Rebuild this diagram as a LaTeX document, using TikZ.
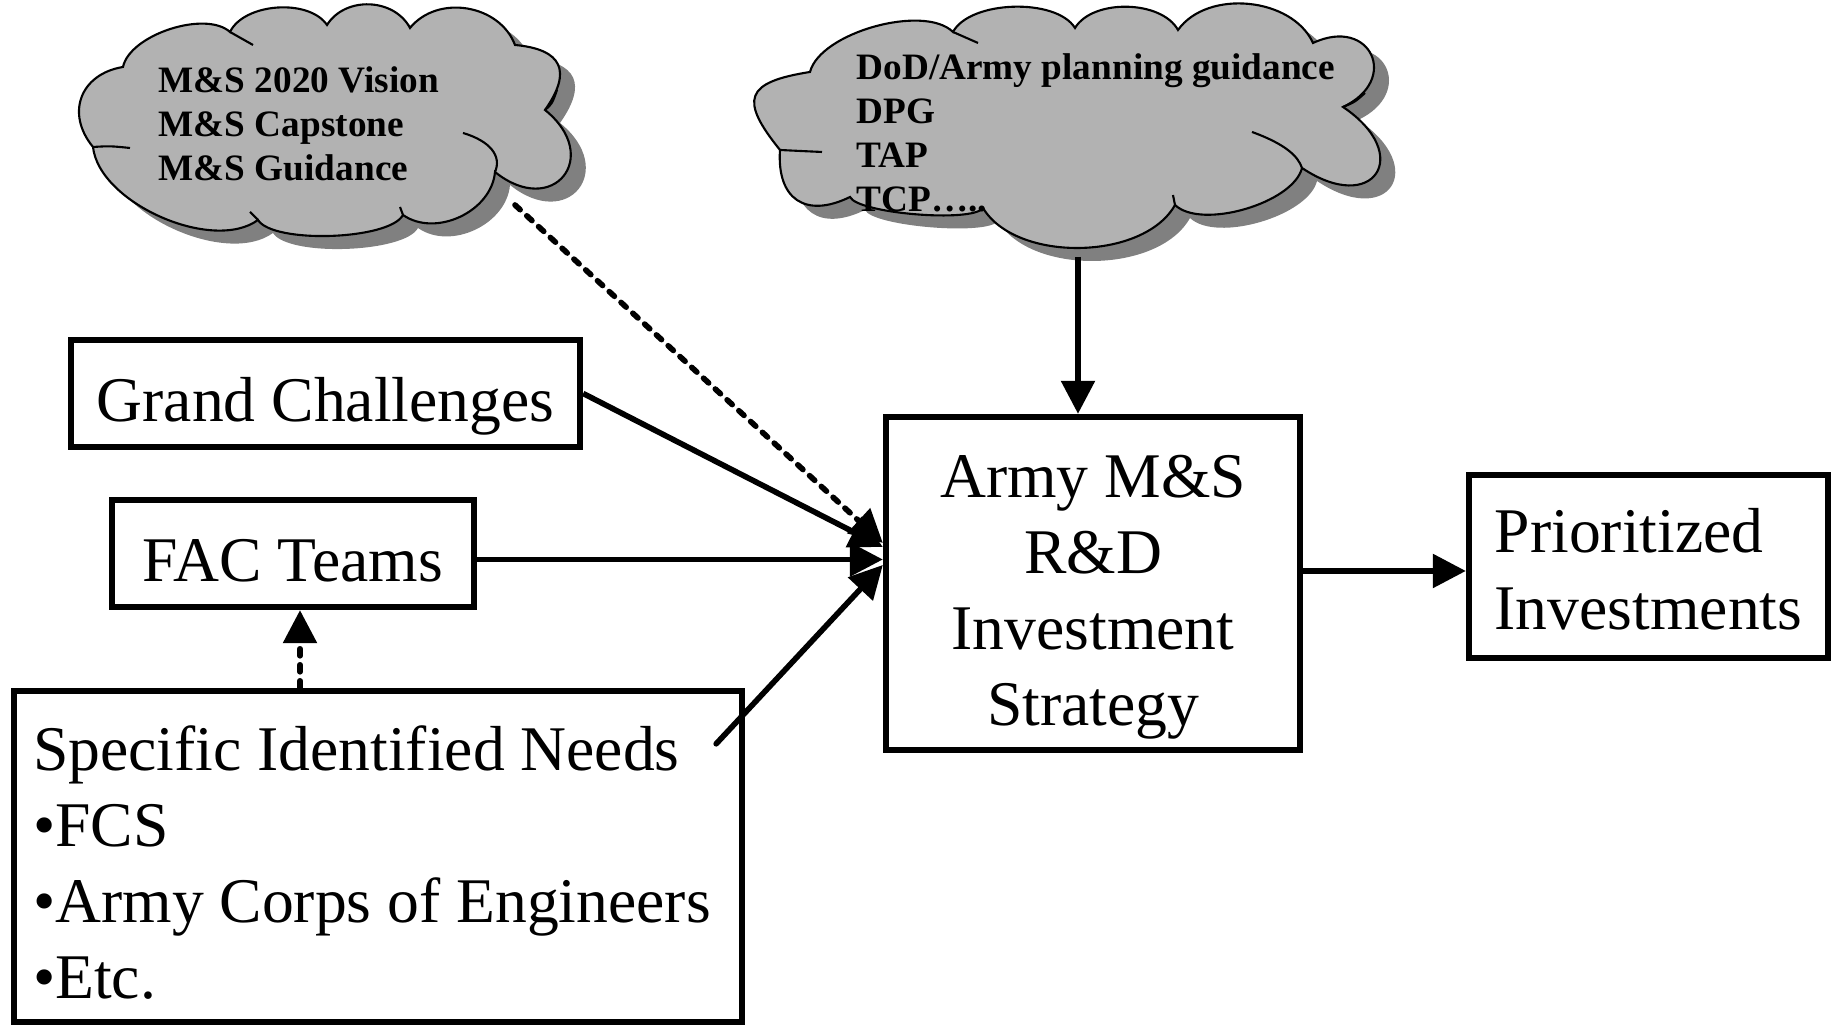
\documentclass[tikz,border=0pt]{standalone}
\usepackage{fontspec}
\setmainfont{Liberation Serif}
\usetikzlibrary{arrows.meta,positioning,calc}

\definecolor{cloudfill}{RGB}{178,178,178}
\definecolor{cloudshade}{RGB}{128,128,128}

\newcommand{\boxfont}{\fontsize{18.1pt}{21.7pt}\selectfont}
\newcommand{\cloudfont}{\fontsize{10.6pt}{12.5pt}\selectfont\bfseries}
\newcommand{\lift}[1][0.56cm]{\rule{0pt}{#1}}

% cloud outlines (puff by puff, clockwise)
\newcommand{\visionpath}{(0.93,8.79)
  to[bend left=60, looseness=1.3]  (1.23,9.59)
  to[bend left=60, looseness=0.75] (2.30,9.94)
  to[bend left=60, looseness=0.85] (3.27,10.01)
  to[bend left=60, looseness=1.05] (4.10,9.98)
  to[bend left=60, looseness=1.05] (5.15,9.81)
  to[bend left=60, looseness=1.7]  (5.45,9.16)
  to[bend left=90, looseness=2.4]  (4.95,8.54)
  to[bend left=60, looseness=1.0]  (4.03,8.11)
  to[bend left=60, looseness=0.5]  (2.58,8.06)
  to[bend left=60, looseness=0.8]  (0.93,8.79) -- cycle}
\newcommand{\planningpath}{(7.80,8.76)
  to[bend left=60, looseness=2.0]  (8.10,9.54)
  to[bend left=60, looseness=0.7]  (9.53,9.94)
  to[bend left=60, looseness=0.75] (10.75,9.98)
  to[bend left=60, looseness=0.85] (11.78,9.96)
  to[bend left=60, looseness=0.95] (13.13,9.83)
  to[bend left=90, looseness=2.3]  (13.43,9.19)
  to[bend left=90, looseness=3.0]  (13.02,8.58)
  to[bend left=60, looseness=0.7]  (11.75,8.21)
  to[bend left=60, looseness=0.85] (9.83,8.18)
  to[bend left=60, looseness=0.35] (8.50,8.29)
  to[bend left=60, looseness=1.5]  (7.80,8.76) -- cycle}

\begin{document}
\begin{tikzpicture}[
    box/.style={draw, line width=1.8pt, rectangle, inner sep=0pt, text depth=0pt, font=\boxfont},
    arr/.style={line width=1.6pt, -{Triangle[length=0.33cm, width=0.33cm]}},
    dasharr/.style={arr, line cap=round, dash pattern=on 0.07cm off 0.09cm},
    puffshade/.style={fill=cloudshade, shift={(0.15,-0.13)}},
    puffbody/.style={draw, fill=cloudfill, line width=0.6pt},
    puffnote/.style={anchor=west, align=left, inner sep=0pt, font=\cloudfont},
    crease/.style={line width=0.6pt}
  ]
  \useasboundingbox (0,0) rectangle (18.33,10.26);

  % Guidance clouds
  \fill[puffshade] \visionpath;
  \filldraw[puffbody] \visionpath;
  \draw[crease] (4.63,8.93) .. controls (4.90,8.85) and (5.02,8.70) .. (4.95,8.54);
  \draw[crease] (0.93,8.79) .. controls (1.10,8.80) .. (1.30,8.78);
  \draw[crease] (5.45,9.16) .. controls (5.52,9.22) .. (5.57,9.36);
  \draw[crease] (2.30,9.94) .. controls (2.42,9.88) .. (2.53,9.81);
  \draw[crease] (4.03,8.11) -- (4.00,8.19);
  \draw[crease] (2.58,8.06) -- (2.50,8.14);
  \node[puffnote] (visionText) at (1.58,9.02) {M\&S 2020 Vision\\M\&S Capstone\\M\&S Guidance};

  \fill[puffshade] \planningpath;
  \filldraw[puffbody] \planningpath;
  \draw[crease] (12.52,8.94) .. controls (12.85,8.82) and (12.98,8.70) .. (13.02,8.58);
  \draw[crease] (7.80,8.76) .. controls (8.00,8.75) .. (8.22,8.74);
  \draw[crease] (13.43,9.19) .. controls (13.55,9.24) .. (13.65,9.33);
  \draw[crease] (9.53,9.94) .. controls (9.65,9.88) .. (9.78,9.83);
  \draw[crease] (11.75,8.21) -- (11.73,8.31);
  \node[puffnote] (planningText) at (8.56,8.93) {DoD/Army planning guidance\\DPG\\TAP\\TCP…..};

  % Inputs
  \node[box, minimum width=5.09cm, minimum height=1.07cm] (grand) at (3.255,6.325) {\lift Grand Challenges};
  \node[box, minimum width=3.62cm, minimum height=1.07cm] (fac) at (2.93,4.725) {\lift FAC Teams};
  \node[box, minimum width=7.28cm, minimum height=3.31cm, align=left] (needs) at (3.78,1.695)
    {\lift Specific Identified Needs\\•FCS\\•Army Corps of Engineers\kern0.12cm\\•Etc.};

  % Strategy and result
  \node[box, minimum width=4.14cm, minimum height=3.33cm, align=center] (army) at (10.93,4.425)
    {\lift Army M\&S\\R\&D\\Investment\\Strategy};
  \node[box, minimum width=3.59cm, minimum height=1.83cm, align=left] (prio) at (16.485,4.595)
    {\lift[0.49cm]Prioritized\\Investments};

  % Connectors
  \coordinate (visionOut) at (5.15,8.21);
  \coordinate (planningOut) at (10.78,7.69);
  \coordinate (needsOut) at ([xshift=-0.29cm, yshift=-0.56cm]needs.north east);
  \coordinate (facOut) at ([yshift=-0.06cm]fac.east);
  \coordinate (prioIn) at ([yshift=-0.045cm]prio.west);

  \draw[dasharr] (visionOut) -- ([yshift=0.405cm]army.west);
  \draw[arr] (grand.east) -- ([yshift=0.365cm]army.west);
  \draw[arr] (facOut) -- (facOut -| army.west);
  \draw[arr, line cap=round] (needsOut) -- ([yshift=0.185cm]army.west);
  \draw[dasharr] ([xshift=0.07cm]fac.south |- needs.north) -- ([xshift=0.07cm]fac.south);
  \draw[arr] (planningOut) -- (planningOut |- army.north);
  \draw[arr] (army.east |- prioIn) -- (prioIn);
\end{tikzpicture}
\end{document}
